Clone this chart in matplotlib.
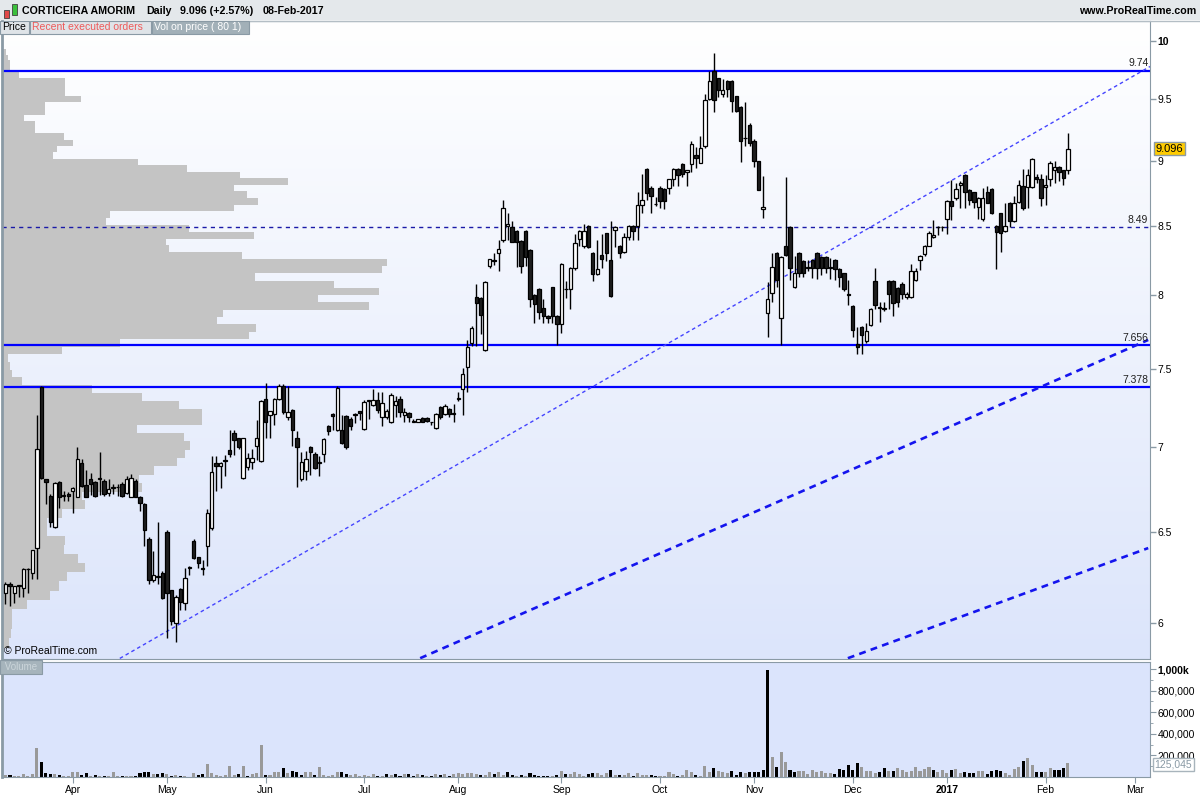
import matplotlib
matplotlib.use('Agg')
import matplotlib.pyplot as plt
import matplotlib.transforms as mtransforms
from matplotlib.colors import LinearSegmentedColormap
from matplotlib.patches import Rectangle
from matplotlib.ticker import FixedLocator, NullLocator
import numpy as np
import pandas as pd

plt.rcParams['font.family'] = ['Liberation Sans', 'DejaVu Sans']

# --- data -------------------------------------------------------------------
holidays = ['2016-03-25', '2016-03-28', '2016-12-26']
days = pd.bdate_range('2016-03-09', '2017-03-10')
days = days[~days.isin(pd.to_datetime(holidays))]

opens = [6.16, 6.21, 6.16, 6.20, 6.19, 6.29, 6.27, 6.41, 7.38, 6.81,
         6.71, 6.53, 6.79, 6.71, 6.72, 6.74, 6.705, 6.905, 6.775, 6.81,
         6.79, 6.81, 6.80, 6.725, 6.755, 6.76, 6.78, 6.725, 6.705, 6.80,
         6.705, 6.66, 6.46, 6.23, 6.25, 6.27, 6.50, 6.175, 6.00, 6.185,
         6.11, 6.30, 6.45, 6.36, 6.30, 6.42, 6.52, 6.905, 6.885, 6.92,
         6.985, 7.09, 7.06, 6.815, 6.88, 6.91, 7.01, 6.915, 7.305, 7.205,
         7.21, 7.305, 7.39, 7.19, 7.235, 7.06, 6.81, 6.855, 7.005, 6.96,
         6.905, 6.96, 7.135, 7.21, 7.11, 7.11, 7.195, 7.18, 7.205, 7.23,
         7.115, 7.29, 7.265, 7.30, 7.19, 7.19, 7.155, 7.265, 7.305, 7.20,
         7.215, 7.16, 7.16, 7.185, 7.185, 7.155, 7.12, 7.255, 7.21, 7.24,
         7.21, 7.305, 7.37, 7.51, 7.67, 7.99, 7.98, 7.625, 8.21, 8.25,
         8.30, 8.40, 8.50, 8.49, 8.46, 8.39, 8.465, 8.32, 8.00, 8.045,
         7.91, 7.855, 8.055, 7.855, 7.80, 8.04, 8.045, 8.19, 8.405, 8.35,
         8.50, 8.30, 8.15, 8.29, 8.445, 8.25, 8.47, 8.35, 8.31, 8.42,
         8.50, 8.50, 8.655, 8.935, 8.79, 8.665, 8.79, 8.78, 8.79, 8.855,
         8.935, 8.975, 8.91, 8.975, 9.05, 8.985, 9.115, 9.50, 9.74, 9.675,
         9.54, 9.655, 9.655, 9.53, 9.435, 9.18, 9.29, 9.16, 8.995, 8.63,
         7.875, 8.015, 8.30, 7.84, 8.355, 8.495, 8.055, 8.30, 8.245, 8.195,
         8.25, 8.30, 8.275, 8.27, 8.195, 8.25, 8.185, 8.155, 8.01, 7.925,
         7.665, 7.78, 7.685, 7.795, 8.10, 7.92, 7.905, 8.10, 8.10, 8.05,
         8.08, 7.99, 7.99, 8.11, 8.25, 8.295, 8.355, 8.42, 8.49, 8.49,
         8.55, 8.69, 8.71, 8.815, 8.89, 8.77, 8.755, 8.645, 8.55, 8.755,
         8.78, 8.50, 8.595, 8.465, 8.675, 8.54, 8.68, 8.80, 8.795, 8.795,
         8.87, 8.855, 8.795, 8.855, 8.93, 8.95, 8.925, 8.93]
highs = [6.22, 6.22, 6.20, 6.20, 6.30, 6.30, 6.40, 7.20, 7.39, 6.81,
         6.72, 6.79, 6.80, 6.74, 6.73, 6.76, 7.00, 6.93, 6.865, 6.845,
         6.80, 6.975, 6.81, 6.81, 6.78, 6.78, 6.79, 6.83, 6.84, 6.81,
         6.71, 6.67, 6.47, 6.39, 6.56, 6.28, 6.51, 6.18, 6.15, 6.19,
         6.30, 6.31, 6.46, 6.36, 6.34, 6.63, 6.95, 6.95, 6.91, 6.955,
         7.11, 7.11, 7.06, 7.06, 6.965, 6.99, 7.17, 7.30, 7.405, 7.23,
         7.31, 7.40, 7.40, 7.39, 7.24, 7.10, 6.975, 6.98, 7.01, 6.97,
         6.95, 7.06, 7.14, 7.215, 7.39, 7.20, 7.20, 7.19, 7.215, 7.23,
         7.30, 7.30, 7.37, 7.35, 7.35, 7.24, 7.34, 7.32, 7.32, 7.245,
         7.22, 7.18, 7.18, 7.19, 7.19, 7.16, 7.215, 7.26, 7.27, 7.245,
         7.27, 7.35, 7.505, 7.695, 7.79, 8.08, 7.99, 8.10, 8.26, 8.30,
         8.40, 8.70, 8.60, 8.535, 8.47, 8.40, 8.47, 8.33, 8.01, 8.05,
         7.97, 7.86, 8.06, 7.86, 8.23, 8.10, 8.20, 8.44, 8.47, 8.515,
         8.51, 8.31, 8.40, 8.44, 8.45, 8.535, 8.50, 8.36, 8.445, 8.51,
         8.51, 8.76, 8.895, 8.94, 8.80, 8.72, 8.80, 8.79, 8.86, 8.94,
         8.94, 8.98, 8.93, 9.155, 9.11, 9.20, 9.54, 9.74, 9.895, 9.68,
         9.67, 9.66, 9.66, 9.53, 9.44, 9.48, 9.30, 9.17, 9.00, 8.88,
         8.09, 8.30, 8.31, 8.28, 8.875, 8.50, 8.28, 8.31, 8.25, 8.25,
         8.26, 8.31, 8.28, 8.28, 8.265, 8.26, 8.19, 8.16, 8.11, 7.93,
         7.78, 7.79, 7.805, 7.91, 8.19, 7.955, 7.955, 8.11, 8.11, 8.06,
         8.09, 8.02, 8.225, 8.19, 8.29, 8.36, 8.46, 8.545, 8.50, 8.50,
         8.70, 8.85, 8.825, 8.84, 8.90, 8.78, 8.76, 8.72, 8.785, 8.80,
         8.79, 8.505, 8.60, 8.675, 8.68, 8.725, 8.85, 8.935, 8.935, 9.02,
         8.90, 8.90, 8.89, 8.995, 8.995, 8.96, 8.93, 9.22]
lows = [6.10, 6.09, 6.11, 6.14, 6.14, 6.16, 6.24, 6.24, 6.81, 6.66,
        6.53, 6.52, 6.64, 6.68, 6.68, 6.61, 6.70, 6.76, 6.70, 6.715,
        6.70, 6.715, 6.71, 6.71, 6.72, 6.71, 6.70, 6.72, 6.70, 6.70,
        6.62, 6.42, 6.21, 6.22, 6.21, 6.13, 5.925, 5.99, 5.90, 6.07,
        6.07, 6.26, 6.35, 6.30, 6.26, 6.31, 6.51, 6.735, 6.755, 6.825,
        6.94, 6.955, 6.99, 6.81, 6.865, 6.87, 6.925, 6.91, 7.06, 7.06,
        7.14, 7.30, 7.21, 7.17, 7.01, 6.76, 6.80, 6.805, 6.835, 6.87,
        6.825, 6.91, 7.075, 7.11, 7.10, 7.02, 6.99, 7.105, 7.15, 7.17,
        7.11, 7.18, 7.26, 7.215, 7.13, 7.18, 7.15, 7.19, 7.19, 7.16,
        7.16, 7.155, 7.155, 7.155, 7.16, 7.14, 7.115, 7.18, 7.20, 7.19,
        7.155, 7.29, 7.205, 7.35, 7.65, 7.65, 7.73, 7.62, 8.19, 8.215,
        8.17, 8.38, 8.40, 8.38, 8.20, 8.155, 8.205, 7.92, 7.81, 7.835,
        7.805, 7.81, 7.805, 7.66, 7.74, 7.98, 7.905, 8.18, 8.35, 8.34,
        8.34, 8.10, 8.14, 8.19, 8.245, 7.99, 8.345, 8.265, 8.30, 8.40,
        8.40, 8.40, 8.60, 8.70, 8.60, 8.65, 8.635, 8.63, 8.74, 8.80,
        8.80, 8.875, 8.80, 8.91, 8.94, 8.98, 9.10, 9.49, 9.39, 9.52,
        9.515, 9.515, 9.39, 9.39, 8.99, 9.12, 9.115, 8.95, 8.77, 8.56,
        7.71, 7.955, 8.06, 7.66, 8.28, 8.11, 8.05, 8.13, 8.13, 8.17,
        8.12, 8.115, 8.145, 8.155, 8.115, 8.11, 8.055, 8.03, 7.93, 7.715,
        7.60, 7.60, 7.67, 7.79, 7.905, 7.815, 7.89, 7.905, 7.855, 7.92,
        7.97, 7.97, 7.98, 8.10, 8.18, 8.28, 8.355, 8.41, 8.435, 8.46,
        8.44, 8.545, 8.70, 8.635, 8.635, 8.66, 8.635, 8.55, 8.54, 8.67,
        8.59, 8.185, 8.305, 8.455, 8.495, 8.53, 8.67, 8.62, 8.635, 8.79,
        8.825, 8.65, 8.66, 8.80, 8.825, 8.845, 8.815, 8.90]
closes = [6.21, 6.20, 6.20, 6.20, 6.29, 6.29, 6.40, 6.99, 6.815, 6.79,
          6.555, 6.785, 6.705, 6.71, 6.71, 6.755, 6.93, 6.765, 6.705, 6.78,
          6.71, 6.81, 6.72, 6.75, 6.755, 6.76, 6.71, 6.81, 6.815, 6.705,
          6.67, 6.51, 6.23, 6.26, 6.25, 6.135, 6.16, 6.01, 6.14, 6.115,
          6.245, 6.30, 6.355, 6.325, 6.29, 6.61, 6.85, 6.885, 6.905, 6.92,
          6.96, 7.045, 7.005, 7.06, 6.935, 6.935, 7.06, 7.29, 7.155, 7.225,
          7.305, 7.39, 7.22, 7.22, 7.105, 7.005, 6.91, 6.93, 6.975, 6.875,
          6.905, 7.05, 7.10, 7.195, 7.375, 7.025, 7.00, 7.135, 7.205, 7.215,
          7.285, 7.30, 7.30, 7.235, 7.28, 7.23, 7.33, 7.29, 7.22, 7.22,
          7.19, 7.16, 7.18, 7.16, 7.165, 7.155, 7.21, 7.19, 7.26, 7.21,
          7.21, 7.305, 7.465, 7.645, 7.775, 7.945, 7.865, 8.09, 8.255, 8.245,
          8.33, 8.635, 8.515, 8.385, 8.385, 8.205, 8.27, 7.975, 7.935, 7.88,
          7.855, 7.84, 7.855, 7.80, 8.22, 8.04, 8.19, 8.375, 8.465, 8.465,
          8.345, 8.15, 8.185, 8.255, 8.30, 7.995, 8.49, 8.30, 8.42, 8.50,
          8.46, 8.66, 8.695, 8.75, 8.725, 8.665, 8.685, 8.69, 8.855, 8.935,
          8.89, 8.895, 8.93, 9.135, 9.02, 9.10, 9.495, 9.655, 9.49, 9.58,
          9.58, 9.585, 9.485, 9.40, 9.155, 9.18, 9.14, 9.00, 8.775, 8.645,
          7.97, 8.20, 8.11, 8.27, 8.29, 8.195, 8.155, 8.155, 8.155, 8.195,
          8.195, 8.195, 8.195, 8.195, 8.195, 8.185, 8.125, 8.045, 8.00, 7.76,
          7.645, 7.725, 7.755, 7.905, 7.93, 7.91, 7.905, 8.005, 7.945, 7.955,
          8.005, 8.01, 8.17, 8.17, 8.28, 8.355, 8.45, 8.43, 8.495, 8.495,
          8.69, 8.65, 8.78, 8.825, 8.755, 8.70, 8.68, 8.71, 8.715, 8.675,
          8.60, 8.455, 8.45, 8.50, 8.535, 8.675, 8.815, 8.635, 8.89, 9.015,
          8.855, 8.71, 8.81, 8.985, 8.95, 8.91, 8.868, 9.096]

# daily volume, thousands of shares
vol_k = [18, 18, 12, 12, 27, 12, 30, 273, 139, 36,
         30, 27, 15, 12, 12, 45, 45, 18, 36, 6,
         18, 9, 6, 9, 45, 6, 9, 9, 6, 9,
         36, 42, 45, 30, 24, 33, 27, 12, 18, 6,
         6, 3, 36, 18, 27, 118, 36, 21, 12, 18,
         100, 21, 27, 100, 12, 27, 36, 300, 18, 18,
         45, 45, 82, 36, 55, 45, 18, 42, 45, 21,
         91, 18, 12, 18, 45, 42, 27, 18, 27, 9,
         18, 9, 27, 9, 9, 27, 18, 27, 9, 27,
         27, 9, 27, 18, 9, 9, 27, 18, 27, 9,
         27, 36, 27, 36, 36, 27, 18, 18, 45, 27,
         45, 18, 45, 18, 9, 18, 9, 36, 18, 12,
         9, 9, 9, 18, 55, 27, 27, 45, 27, 9,
         27, 36, 36, 21, 36, 64, 18, 18, 18, 36,
         9, 36, 18, 18, 18, 9, 9, 9, 45, 27,
         9, 18, 64, 45, 18, 9, 100, 45, 82, 55,
         45, 36, 55, 18, 45, 36, 45, 45, 45, 64,
         990, 182, 91, 236, 136, 64, 45, 52, 55, 27,
         64, 45, 55, 36, 36, 27, 73, 64, 109, 64,
         127, 91, 55, 55, 36, 45, 82, 55, 55, 82,
         64, 45, 55, 91, 55, 73, 91, 64, 45, 64,
         36, 64, 73, 36, 45, 36, 36, 55, 55, 27,
         55, 64, 55, 36, 18, 73, 91, 145, 173, 109,
         45, 45, 45, 82, 64, 64, 82, 125.045]

# volume on price profile, 80 price bins from low to high (thousands)
vop_lo, vop_hi = 5.87, 9.93
vop_k = [7, 9, 10, 10, 25, 48, 57, 65, 83, 76,
         62, 63, 45, 45, 60, 83, 80, 140, 137, 152,
         175, 183, 188, 182, 135, 200, 200, 177, 140, 90,
         20, 10, 8, 6, 60, 118, 247, 254, 215, 221,
         367, 316, 377, 332, 253, 380, 385, 240, 167, 164,
         252, 187, 104, 108, 232, 256, 245, 232, 286, 238,
         185, 136, 51, 55, 71, 62, 33, 33, 22, 43,
         43, 79, 63, 63, 63, 17, 8, 8, 6, 4]

levels = [9.74, 7.656, 7.378]
level_labels = ['9.74', '7.656', '7.378']
pivot = 8.49
last_price = 9.096

# trend lines: (bar index, price) end points
trend_thin = ([25.5, 255.3], [5.818, 9.776])
trend_mid = ([92.5, 254.9], [5.819, 7.692])
trend_low = ([187.9, 254.9], [5.819, 6.409])

price_ticks = [6, 6.5, 7, 7.5, 8, 8.5, 9, 9.5, 10]
price_tick_labels = ['6', '6.5', '7', '7.5', '8', '8.5', '9', '9.5', '10']
vol_ticks = [200, 400, 600, 800, 1000]
vol_tick_labels = ['200,000', '400,000', '600,000', '800,000', '1,000k']
month_names = ['Apr', 'May', 'Jun', 'Jul', 'Aug', 'Sep', 'Oct', 'Nov', 'Dec', '2017', 'Feb', 'Mar']

# --- figure ------------------------------------------------------------------
W, H = 1200, 800
fig = plt.figure(figsize=(12, 8), dpi=100)
fig.patch.set_facecolor('white')


def px_rect(l, t, r, b):
    return [l / W, 1 - b / H, (r - l) / W, (b - t) / H]


border = '#8a9aa5'
price_rect = px_rect(2, 21, 1150, 659)
vol_rect = px_rect(2, 662, 1150, 777)

o = np.array(opens); hi = np.array(highs); lo = np.array(lows); c = np.array(closes)
x = np.arange(len(o))
xlim = (-0.78, 255.3)
ylim = (5.815, 10.174)

# background gradient
axbg = fig.add_axes(price_rect, zorder=0)
grad = np.linspace(0, 1, 256).reshape(-1, 1)
cmap = LinearSegmentedColormap.from_list('bg', ['#ffffff', '#dce5fb'])
axbg.imshow(grad, aspect='auto', cmap=cmap, extent=[0, 1, 0, 1])
axbg.axis('off')

# volume on price profile
axv = fig.add_axes(price_rect, zorder=1)
axv.set_yscale('log')
edges = np.linspace(vop_lo, vop_hi, len(vop_k) + 1)
axv.barh(edges[:-1], vop_k, height=np.diff(edges), align='edge',
         color='#c4c4c4', edgecolor='none')
axv.set_ylim(*ylim)
axv.set_xlim(0, max(vop_k) / 0.3354)
axv.axis('off')
axv.patch.set_visible(False)

# price panel
ax = fig.add_axes(price_rect, zorder=2)
ax.patch.set_visible(False)
ax.set_yscale('log')
ax.set_xlim(*xlim)
ax.set_ylim(*ylim)

for lv in levels:
    ax.axhline(lv, color='#0000ff', lw=1.6, zorder=2)
ax.axhline(pivot, color='#1a1aa8', lw=1.0, dashes=(3, 3), zorder=2)
ax.plot(*trend_thin, color='#4444ff', lw=1.0, dashes=(2.6, 2.2), zorder=2)
ax.plot(*trend_mid, color='#1414ee', lw=1.9, dashes=(2.6, 2.0), zorder=2)
ax.plot(*trend_low, color='#1414ee', lw=1.9, dashes=(2.6, 2.0), zorder=2)

up = c >= o
face = np.where(up, 'white', '#1e1e1e')
ax.vlines(x, lo, hi, color='black', lw=1.0, zorder=3)
ax.bar(x, np.maximum(np.abs(c - o), 0.004), bottom=np.minimum(o, c), width=0.76,
       color=face, edgecolor='black', linewidth=0.9, zorder=4)

blend = mtransforms.blended_transform_factory(ax.transAxes, ax.transData)
for lv, lab in zip(levels + [pivot], level_labels + ['8.49']):
    ax.text(0.9985, lv * 1.002, lab, transform=blend, ha='right', va='bottom',
            fontsize=7.5, color='#202020', zorder=5)
ax.text(1.005, last_price, f'{last_price:.3f}', transform=blend, ha='left', va='center',
        fontsize=8, color='black', clip_on=False, zorder=6,
        bbox=dict(boxstyle='square,pad=0.15', fc='#ffcc00', ec=border, lw=1))
ax.text(0.002, 0.004, '\u00a9 ProRealTime.com', transform=ax.transAxes,
        ha='left', va='bottom', fontsize=7.5, color='black')

ax.yaxis.tick_right()
ax.yaxis.set_major_locator(FixedLocator(price_ticks))
ax.yaxis.set_minor_locator(NullLocator())
ax.set_yticklabels(price_tick_labels)
for t in ax.get_yticklabels():
    if t.get_text() == '10':
        t.set_fontweight('bold')
        t.set_fontsize(8.5)
ax.tick_params(axis='y', which='major', direction='out', length=4, width=1,
               color=border, labelsize=7.5, pad=1.5)
ax.set_xticks([])
for s in ax.spines.values():
    s.set_color(border)
ax.spines['left'].set_linewidth(2)

# volume panel
ax2 = fig.add_axes(vol_rect)
ax2.set_facecolor('#dbe4fc')
prev = np.concatenate([[c[0]], c[:-1]])
vcol = np.where(c >= prev, '#999999', '#000000')
ax2.bar(x, vol_k, width=0.68, color=vcol, edgecolor='none')
ax2.set_xlim(*xlim)
ax2.set_ylim(0, 1065)
ax2.yaxis.tick_right()
ax2.set_yticks(vol_ticks)
ax2.set_yticklabels(vol_tick_labels)
ax2.yaxis.set_minor_locator(FixedLocator(np.arange(100, 1001, 200)))
for t in ax2.get_yticklabels():
    if t.get_text() == '1,000k':
        t.set_fontweight('bold')
ax2.tick_params(axis='y', which='major', direction='out', length=4, color=border,
                labelsize=7.5, pad=1.5)
ax2.tick_params(axis='y', which='minor', direction='out', length=2.5, color=border)

month_idx = []
for m in pd.date_range('2016-04-01', '2017-03-01', freq='MS'):
    month_idx.append(int(np.searchsorted(days, m)))
ax2.set_xticks(month_idx)
ax2.set_xticklabels(month_names)
for t in ax2.get_xticklabels():
    if t.get_text() == '2017':
        t.set_fontweight('bold')
        t.set_fontsize(8.5)
ax2.tick_params(axis='x', direction='out', length=4, color=border, labelsize=7.5, pad=2)
for s in ax2.spines.values():
    s.set_color(border)
ax2.spines['left'].set_linewidth(2)

vblend = mtransforms.blended_transform_factory(ax2.transAxes, ax2.transData)
ax2.text(1.004, vol_k[-1] - 12, '125,045', transform=vblend, ha='left', va='center',
         fontsize=7.5, color='#8a9aa5', clip_on=False, zorder=10,
         bbox=dict(boxstyle='square,pad=0.15', fc='white', ec='#a8b4bc', lw=1))
ax2.text(0.0, 1.0, ' Volume ', transform=ax2.transAxes, ha='left', va='top',
         fontsize=7, color='#cbd5da',
         bbox=dict(boxstyle='square,pad=0.25', fc='#a6b4bc', ec='#8a9aa5', lw=0.8))

# --- header ------------------------------------------------------------------
fig.patches.append(Rectangle((0, 1 - 20 / H), 1, 20 / H, transform=fig.transFigure,
                             facecolor='#e4e8eb', edgecolor='none', zorder=0))
fig.lines.append(plt.Line2D([0, 1], [1 - 20.5 / H] * 2, transform=fig.transFigure,
                            color='#b4bec5', lw=1))
# tiny logo
for (lx, ly, lw_, lh, col) in [(4, 10, 5, 8, '#e04848'), (12, 4, 5, 11, '#3cc03c')]:
    fig.patches.append(Rectangle((lx / W, 1 - (ly + lh) / H), lw_ / W, lh / H,
                                 transform=fig.transFigure, facecolor=col,
                                 edgecolor='#404040', lw=0.6))
fig.text(22 / W, 1 - 10.5 / H, 'CORTICEIRA AMORIM', fontsize=7.7, fontweight='bold', va='center')
fig.text(146 / W, 1 - 10.5 / H, 'Daily', fontsize=7.7, fontweight='bold', va='center')
fig.text(180 / W, 1 - 10.5 / H, '9.096 (+2.57%)', fontsize=7.7, fontweight='bold', va='center')
fig.text(263 / W, 1 - 10.5 / H, '08-Feb-2017', fontsize=7.7, fontweight='bold', va='center')
fig.text(1196 / W, 1 - 10.5 / H, 'www.ProRealTime.com', fontsize=7.7, fontweight='bold',
         va='center', ha='right')

# legend buttons
buttons = [(0, 29, 'Price', '#dfe4e8', 'black'),
           (30, 151, 'Recent executed orders', '#dfe4e8', '#ee5a5a'),
           (152, 249, 'Vol on price ( 80 1)', '#a2b0b8', 'white')]
for (bl, br, txt, fc, tc) in buttons:
    fig.patches.append(Rectangle((bl / W, 1 - 33.5 / H), (br - bl) / W, 12.5 / H,
                                 transform=fig.transFigure, facecolor=fc,
                                 edgecolor='#8a9aa5', lw=0.8, zorder=5))
    fig.text((bl + 2) / W, 1 - 27.5 / H, txt, fontsize=7.5, color=tc, va='center', zorder=6)

fig.savefig('out.png', dpi=100, facecolor='white')
